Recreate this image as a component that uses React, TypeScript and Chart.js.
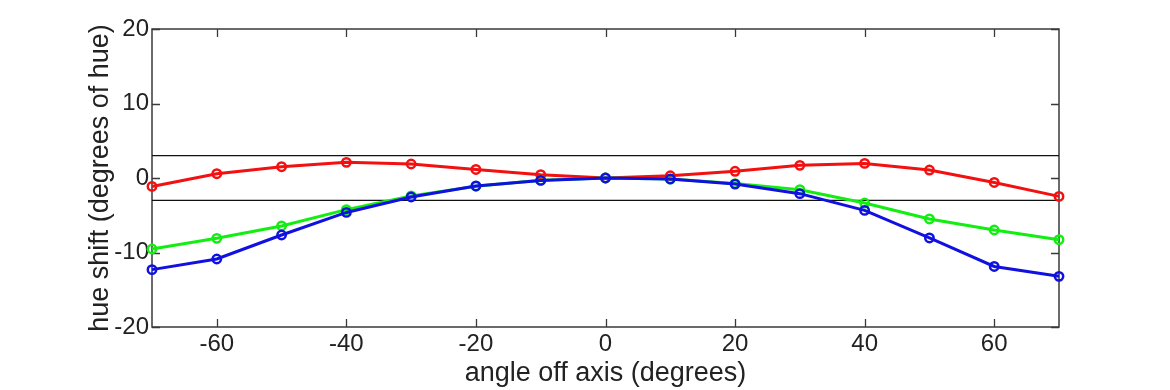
import React, { useEffect, useRef } from "react";
import { Chart, registerables } from "chart.js";

Chart.register(...registerables);

const angles = [-70, -60, -50, -40, -30, -20, -10, 0, 10, 20, 30, 40, 50, 60, 70];
const redShift = [-1.13, 0.58, 1.52, 2.1, 1.88, 1.15, 0.45, 0, 0.3, 0.9, 1.7, 1.96, 1.07, -0.6, -2.47];
const greenShift = [-9.53, -8.1, -6.44, -4.25, -2.4, -1.1, -0.3, 0, -0.15, -0.75, -1.57, -3.36, -5.5, -6.98, -8.28];
const blueShift = [-12.3, -10.87, -7.65, -4.62, -2.55, -1.07, -0.32, 0, -0.13, -0.82, -2.1, -4.35, -8.05, -11.87, -13.2];
const limitUpper = [3, 3];
const limitLower = [-3, -3];
const limitX = [-70, 70];
const xTicks = [-60, -40, -20, 0, 20, 40, 60];
const yTicks = [-20, -10, 0, 10, 20];

const FONT = "'Liberation Sans', Arial, Helvetica, sans-serif";

const framePlugin = {
  id: "frame",
  beforeDatasetsDraw(chart: any) {
    const { ctx, chartArea: a, scales } = chart;
    ctx.save();
    ctx.strokeStyle = "#3a3a3a";
    ctx.lineWidth = 1.3;
    ctx.beginPath();
    for (const v of xTicks) {
      const px = Math.round(scales.x.getPixelForValue(v)) + 0.5;
      ctx.moveTo(px, a.bottom);
      ctx.lineTo(px, a.bottom - 8);
      ctx.moveTo(px, a.top);
      ctx.lineTo(px, a.top + 8);
    }
    for (const v of yTicks) {
      const py = Math.round(scales.y.getPixelForValue(v)) + 0.5;
      ctx.moveTo(a.left, py);
      ctx.lineTo(a.left + 8, py);
      ctx.moveTo(a.right, py);
      ctx.lineTo(a.right - 8, py);
    }
    ctx.stroke();
    ctx.lineWidth = 1.5;
    ctx.strokeRect(a.left, a.top, a.right - a.left, a.bottom - a.top);
    ctx.restore();
  },
};

function series(values: number[]) {
  return angles.map((x, i) => ({ x, y: values[i] }));
}

export default function App() {
  const ref = useRef<HTMLCanvasElement | null>(null);

  useEffect(() => {
    if (!ref.current) return;
    const mk = (label: string, values: number[], color: string, order: number) => ({
      label,
      data: series(values),
      borderColor: color,
      backgroundColor: "transparent",
      pointBorderColor: color,
      pointBackgroundColor: "transparent",
      pointRadius: 4.2,
      pointBorderWidth: 2.5,
      borderWidth: 3,
      tension: 0,
      clip: false,
      order,
    });
    const chart = new Chart(ref.current, {
      type: "line",
      data: {
        datasets: [
          {
            label: "upper",
            data: limitX.map((x, i) => ({ x, y: limitUpper[i] })),
            borderColor: "#111",
            borderWidth: 1.3,
            pointRadius: 0,
            order: 10,
          },
          {
            label: "lower",
            data: limitX.map((x, i) => ({ x, y: limitLower[i] })),
            borderColor: "#111",
            borderWidth: 1.3,
            pointRadius: 0,
            order: 10,
          },
          mk("red", redShift, "#f21010", 3),
          mk("green", greenShift, "#12ee12", 2),
          mk("blue", blueShift, "#1010e0", 1),
        ] as any,
      },
      options: {
        animation: false,
        responsive: false,
        devicePixelRatio: 1,
        layout: { padding: { left: 84, right: 111, top: 29, bottom: 0 } },
        plugins: { legend: { display: false }, tooltip: { enabled: false } },
        scales: {
          x: {
            type: "linear",
            min: -70,
            max: 70,
            afterBuildTicks: (s: any) => {
              s.ticks = xTicks.map((v) => ({ value: v }));
            },
            afterFit: (s: any) => {
              s.height = 63;
            },
            grid: { display: false, drawTicks: false },
            border: { display: false },
            ticks: {
              padding: 3,
              color: "#222",
              font: { family: FONT, size: 24 },
              maxRotation: 0,
              autoSkip: false,
            },
            title: {
              display: true,
              text: "angle off axis (degrees)",
              color: "#222",
              font: { family: FONT, size: 27 },
              padding: { top: 0, bottom: 0 },
            },
          },
          y: {
            type: "linear",
            min: -20,
            max: 20,
            afterBuildTicks: (s: any) => {
              s.ticks = yTicks.map((v) => ({ value: v }));
            },
            afterFit: (s: any) => {
              s.width = 68;
            },
            grid: { display: false, drawTicks: false },
            border: { display: false },
            ticks: {
              padding: 3,
              color: "#222",
              font: { family: FONT, size: 24 },
            },
            title: {
              display: true,
              text: "hue shift (degrees of hue)",
              color: "#222",
              font: { family: FONT, size: 27 },
              padding: { top: 0, bottom: 0 },
            },
          },
        },
      },
      plugins: [framePlugin],
    });
    return () => chart.destroy();
  }, []);

  return (
    <div style={{ position: "absolute", left: 0, top: 0, width: 1170, height: 390, background: "#fff" }}>
      <canvas ref={ref} width={1170} height={390} style={{ display: "block" }} />
    </div>
  );
}
